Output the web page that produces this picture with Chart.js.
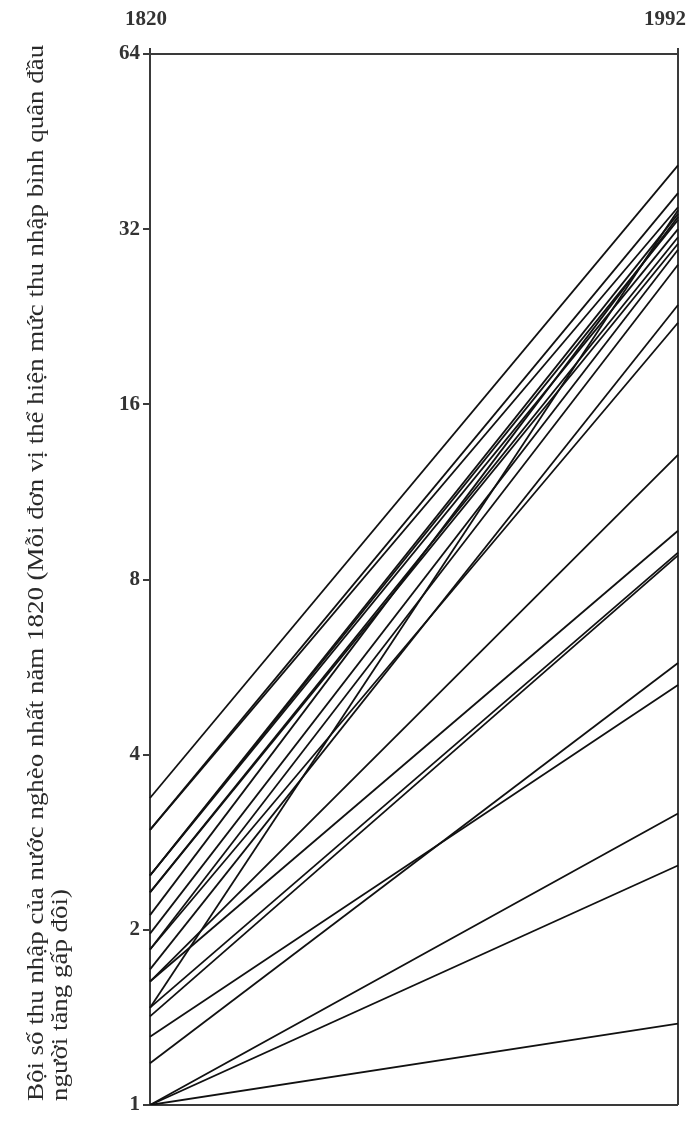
<!DOCTYPE html>
<html>
<head>
<meta charset="utf-8">
<script src="https://cdn.jsdelivr.net/npm/chart.js@4.4.1/dist/chart.umd.min.js"></script>
<style>
  html, body { margin: 0; padding: 0; background: #fff; overflow: hidden; }
  #wrap { width: 686px; height: 1124px; position: relative; }
</style>
</head>
<body>
<div id="wrap"><canvas id="divergence"></canvas></div>
<script>
// years on the x axis
const years = ["1820", "1992"];
// income multiple of the poorest country in 1820, one entry per country
const income1820 = [3.37, 2.97, 2.97, 2.48, 2.48, 2.48, 2.32, 2.32, 2.12, 1.97, 1.85, 1.47, 1.71, 1.85, 1.63, 1.63, 1.47, 1.42, 1.18, 1.31, 1, 1, 1];
const income1992 = [41.2, 36.9, 34.9, 34.0, 33.2, 32.0, 31.0, 30.2, 33.6, 29.5, 27.8, 34.5, 23.7, 22.1, 13.1, 9.7, 8.9, 8.8, 5.75, 5.27, 3.17, 2.58, 1.38];
// y tick labels (each step is a doubling)
const yTicks = [1, 2, 4, 8, 16, 32, 64];
const yTitle = [
  "Bội số thu nhập của nước nghèo nhất năm 1820 (Mỗi đơn vị thể hiện mức thu nhập bình quân đầu",
  "người tăng gấp đôi)"
];

const serif = "'Liberation Serif', 'DejaVu Serif', serif";
const axisColor = "#3a3a3a";

// draws the year labels above the box and the two-line y title
const textPlugin = {
  id: "texts",
  afterDraw: function (chart) {
    const ctx = chart.ctx;
    const area = chart.chartArea;
    const x = chart.scales.x;
    ctx.save();
    ctx.fillStyle = "#333";
    ctx.textBaseline = "middle";
    ctx.textAlign = "center";
    ctx.font = "bold 21px " + serif;
    const shift = [-4, -13];
    years.forEach(function (yr, i) {
      ctx.fillText(yr, x.getPixelForValue(i) + shift[i], 20);
    });

    // the title font in the original is wider than Times, so stretch it a bit
    const stretch = 1.17;
    ctx.fillStyle = "#2a2a2a";
    ctx.font = "23px " + serif;
    ctx.textAlign = "left";
    ctx.translate(0, area.bottom - 4);
    ctx.rotate(-Math.PI / 2);
    ctx.scale(stretch, 1);
    const maxW = (area.bottom - 4 - 40) / stretch;
    ctx.fillText(yTitle[0], 0, 37, maxW);
    ctx.fillText(yTitle[1], 0, 61, maxW);
    ctx.restore();
  }
};

window.onload = function () {
  const datasets = income1820.map(function (v, i) {
    return {
      data: [v, income1992[i]],
      borderColor: "#111",
      borderWidth: 1.8,
      pointRadius: 0,
      fill: false,
      tension: 0
    };
  });

  new Chart(document.getElementById("divergence"), {
    type: "line",
    data: { labels: years, datasets: datasets },
    plugins: [textPlugin],
    options: {
      responsive: true,
      maintainAspectRatio: false,
      animation: false,
      layout: { padding: { left: 0, right: 8, top: 0, bottom: 19 } },
      plugins: {
        legend: { display: false },
        tooltip: { enabled: false }
      },
      scales: {
        x: {
          position: "top",
          offset: false,
          grid: {
            color: axisColor,
            lineWidth: 2,
            tickLength: 6,
            tickColor: axisColor
          },
          border: { display: true, color: axisColor, width: 2 },
          ticks: { display: false },
          afterFit: function (s) {
            s.height = 54;
            s.paddingLeft = 0;
            s.paddingRight = 0;
          }
        },
        y: {
          type: "logarithmic",
          min: 1,
          max: 64,
          afterBuildTicks: function (axis) {
            axis.ticks = yTicks.map(function (v) { return { value: v }; });
          },
          grid: {
            color: function (ctx) {
              const v = ctx.tick && ctx.tick.value;
              return (v === 1 || v === 64) ? axisColor : "rgba(0,0,0,0)";
            },
            lineWidth: 2,
            tickLength: 7,
            tickColor: axisColor
          },
          border: { display: true, color: axisColor, width: 2 },
          ticks: {
            color: "#333",
            padding: 3,
            callback: function (v) { return String(v); },
            font: { family: serif, size: 21, weight: "bold" }
          },
          afterFit: function (s) {
            s.width = 150;
            s.paddingTop = 0;
            s.paddingBottom = 0;
          }
        }
      }
    }
  });
};
</script>
</body>
</html>
